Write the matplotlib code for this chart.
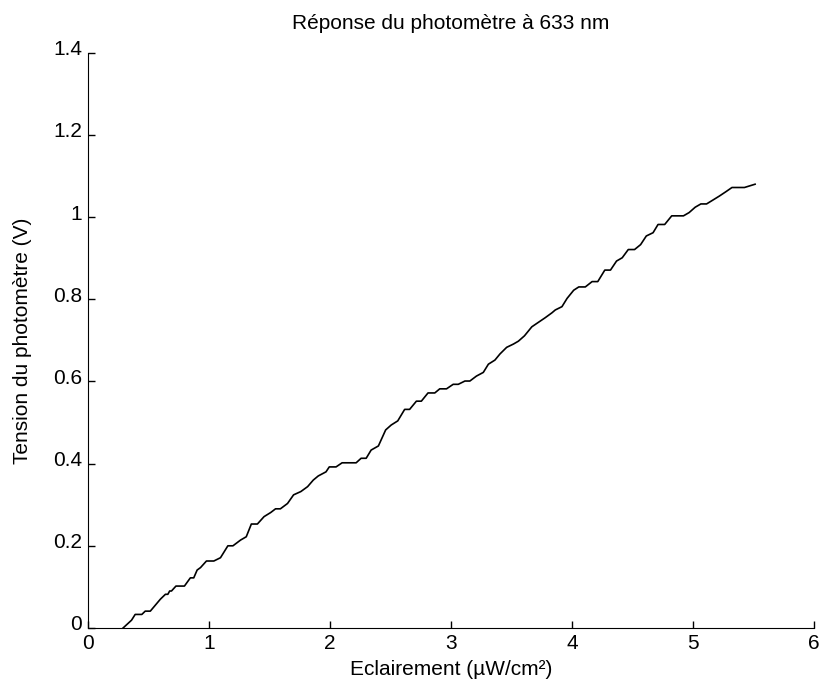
import matplotlib
matplotlib.use('Agg')
import matplotlib.pyplot as plt
from matplotlib.transforms import ScaledTranslation

# photometer response
eclairement = [0.29, 0.36, 0.39, 0.445, 0.473, 0.515, 0.598, 0.64, 0.66, 0.675,
               0.69, 0.727, 0.797, 0.846, 0.874, 0.902, 0.93, 0.979, 1.04, 1.095,
               1.156, 1.198, 1.261, 1.308, 1.35, 1.40, 1.455, 1.51, 1.55, 1.59,
               1.649, 1.699, 1.759, 1.815, 1.862, 1.903, 1.967, 1.994, 2.05, 2.10,
               2.216, 2.257, 2.299, 2.34, 2.40, 2.46, 2.506, 2.56, 2.617, 2.658,
               2.714, 2.755, 2.81, 2.866, 2.907, 2.963, 3.018, 3.06, 3.115, 3.156,
               3.21, 3.267, 3.309, 3.363, 3.405, 3.46, 3.516, 3.557, 3.607, 3.668,
               3.723, 3.778, 3.834, 3.862, 3.917, 3.959, 4.014, 4.056, 4.11, 4.166,
               4.213, 4.271, 4.318, 4.368, 4.415, 4.465, 4.517, 4.567, 4.614, 4.67,
               4.711, 4.766, 4.824, 4.921, 4.968, 5.018, 5.065, 5.112, 5.162, 5.217,
               5.273, 5.322, 5.425, 5.513]
tension = [0.0, 0.019, 0.033, 0.033, 0.041, 0.041, 0.070, 0.082, 0.082, 0.090,
           0.090, 0.102, 0.102, 0.122, 0.122, 0.141, 0.147, 0.163, 0.163, 0.171,
           0.200, 0.200, 0.214, 0.222, 0.253, 0.253, 0.271, 0.281, 0.290, 0.290,
           0.303, 0.324, 0.332, 0.344, 0.360, 0.370, 0.380, 0.392, 0.392, 0.402,
           0.402, 0.413, 0.413, 0.433, 0.443, 0.482, 0.494, 0.504, 0.532, 0.532,
           0.552, 0.552, 0.572, 0.572, 0.582, 0.582, 0.593, 0.593, 0.601, 0.601,
           0.613, 0.622, 0.642, 0.652, 0.667, 0.683, 0.691, 0.698, 0.711, 0.733,
           0.744, 0.755, 0.767, 0.774, 0.782, 0.802, 0.822, 0.830, 0.830, 0.843,
           0.843, 0.871, 0.871, 0.893, 0.901, 0.921, 0.921, 0.933, 0.954, 0.962,
           0.982, 0.982, 1.003, 1.003, 1.011, 1.024, 1.032, 1.032, 1.041, 1.051,
           1.062, 1.072, 1.072, 1.080]
xticks = [0, 1, 2, 3, 4, 5, 6]
yticks = [0, 0.2, 0.4, 0.6, 0.8, 1, 1.2, 1.4]
yticklabels = ['0', '0.2', '0.4', '0.6', '0.8', '1', '1.2', '1.4']

plt.rcParams['font.family'] = ['Liberation Sans', 'DejaVu Sans']
plt.rcParams['font.size'] = 15

fig = plt.figure(figsize=(8.2, 6.82), dpi=100)
ax = fig.add_axes([0.1073, 0.0792, 0.8854, 0.8435])
ax.plot(eclairement, tension, color='black', lw=1.2)

ax.set_xlim(0, 6)
ax.set_ylim(0, 1.4)
ax.set_xticks(xticks)
ax.set_yticks(yticks)
ax.set_yticklabels(yticklabels)
ax.spines['top'].set_visible(False)
ax.spines['right'].set_visible(False)
ax.tick_params(direction='in', length=5, width=1, pad=4.3, labelsize=15)

# y tick labels sit a little above their ticks in the original
shift = ScaledTranslation(0, 5 / 100, fig.dpi_scale_trans)
for lab in ax.get_yticklabels():
    lab.set_transform(lab.get_transform() + shift)

ax.set_title('Réponse du photomètre à 633 nm', fontsize=15, pad=17)
ax.set_xlabel('Eclairement (µW/cm²)', fontsize=15, labelpad=5)
ax.set_ylabel('Tension du photomètre (V)', fontsize=15, labelpad=15)

plt.savefig('out.png', dpi=100)
